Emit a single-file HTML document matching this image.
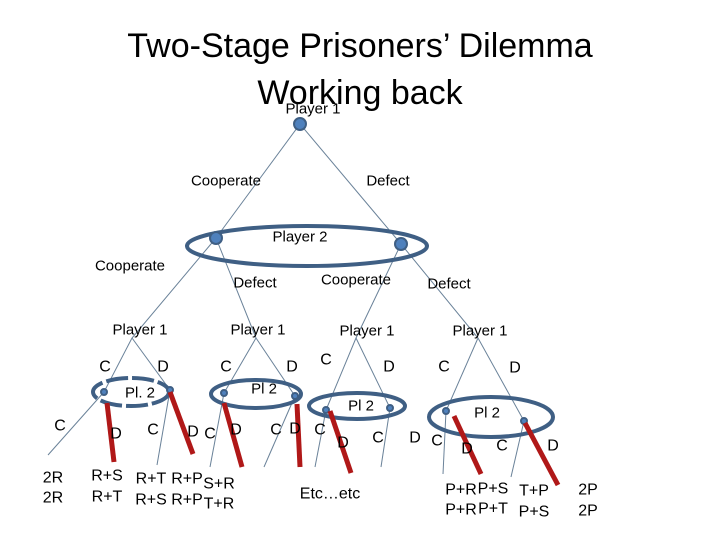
<!DOCTYPE html>
<html><head><meta charset="utf-8"><style>
html,body{margin:0;padding:0;background:#fff;}
svg{display:block;font-family:"Liberation Sans",sans-serif;}
</style></head><body>
<svg width="720" height="540" viewBox="0 0 720 540" xmlns="http://www.w3.org/2000/svg">
<g font-size="34" text-anchor="middle" fill="#000">
<text x="360" y="57">Two-Stage Prisoners’ Dilemma</text>
<text x="360" y="104">Working back</text>
</g>
<g stroke="#6a8299" stroke-width="1" fill="none">
<line x1="300" y1="124" x2="216" y2="238"/>
<line x1="300" y1="124" x2="401" y2="244"/>
<polyline points="216,238 132,338 104,392"/><line x1="132" y1="338" x2="170" y2="390"/>
<polyline points="216,238 256,338 224,393"/><line x1="256" y1="338" x2="295" y2="396"/>
<polyline points="401,244 356,338 326,410"/><line x1="356" y1="338" x2="390" y2="408"/>
<polyline points="401,244 478,338 524,421"/><line x1="478" y1="338" x2="446" y2="411"/>
<line x1="104" y1="392" x2="48" y2="455"/>
<line x1="170" y1="390" x2="157" y2="465"/>
<line x1="224" y1="393" x2="210" y2="467"/>
<line x1="295" y1="396" x2="264" y2="467"/>
<line x1="326" y1="410" x2="315" y2="467"/>
<line x1="390" y1="408" x2="381" y2="467"/>
<line x1="446" y1="411" x2="443" y2="474"/>
<line x1="524" y1="421" x2="511" y2="477"/>
</g>
<g stroke="#3f5f84" stroke-width="4" fill="none">
<ellipse cx="307" cy="246" rx="120" ry="20"/>
<ellipse cx="131" cy="392" rx="38" ry="14" stroke-dasharray="22 4"/>
<ellipse cx="256" cy="394" rx="45" ry="14"/>
<ellipse cx="357" cy="406" rx="48" ry="13"/>
<ellipse cx="491" cy="417" rx="62" ry="20"/>
</g>
<g fill="#4f81bd" stroke="#3f5f84" stroke-width="2">
<circle cx="300" cy="124" r="6"/>
<circle cx="216" cy="238" r="6"/>
<circle cx="401" cy="244" r="6"/>
<circle cx="104" cy="392" r="3"/><circle cx="170" cy="390" r="3"/>
<circle cx="224" cy="393" r="3"/><circle cx="295" cy="396" r="3"/>
<circle cx="326" cy="410" r="3"/><circle cx="390" cy="408" r="3"/>
<circle cx="446" cy="411" r="3"/><circle cx="524" cy="421" r="3"/>
</g>
<g stroke="#b01818" stroke-width="5" fill="none">
<line x1="107" y1="403" x2="114" y2="462"/>
<line x1="170" y1="392" x2="193" y2="454"/>
<line x1="224" y1="403" x2="242" y2="467"/>
<line x1="297" y1="404" x2="300" y2="467"/>
<line x1="330" y1="411" x2="351" y2="473"/>
<line x1="454" y1="416" x2="481" y2="474"/>
<line x1="525" y1="423" x2="558" y2="485"/>
</g>
<g font-size="15" text-anchor="middle" dominant-baseline="central" fill="#000">
<text x="313" y="109">Player 1</text>
<text x="226" y="181">Cooperate</text>
<text x="388" y="181">Defect</text>
<text x="300" y="237">Player 2</text>
<text x="130" y="266">Cooperate</text>
<text x="255" y="283">Defect</text>
<text x="356" y="280">Cooperate</text>
<text x="449" y="284">Defect</text>
<text x="140" y="330">Player 1</text>
<text x="258" y="330">Player 1</text>
<text x="367" y="331">Player 1</text>
<text x="480" y="331">Player 1</text>
<text x="140" y="393">Pl. 2</text>
<text x="264" y="389">Pl 2</text>
<text x="361" y="406">Pl 2</text>
<text x="487" y="413">Pl 2</text>
</g>
<g font-size="16" text-anchor="middle" dominant-baseline="central" fill="#000">
<text x="105" y="367">C</text><text x="163" y="367">D</text>
<text x="226" y="367">C</text><text x="292" y="367">D</text>
<text x="326" y="360">C</text><text x="389" y="367">D</text>
<text x="444" y="367">C</text><text x="515" y="368">D</text>
<text x="60" y="426">C</text><text x="116" y="434">D</text>
<text x="153" y="430">C</text><text x="193" y="432">D</text>
<text x="210" y="434">C</text><text x="236" y="430">D</text>
<text x="276" y="430">C</text><text x="295" y="429">D</text>
<text x="320" y="430">C</text><text x="343" y="443">D</text>
<text x="378" y="438">C</text><text x="415" y="438">D</text>
<text x="437" y="441">C</text><text x="467" y="449">D</text>
<text x="502" y="446">C</text><text x="553" y="446">D</text>
<text x="53" y="478">2R</text><text x="53" y="498">2R</text>
<text x="107" y="476">R+S</text><text x="107" y="497">R+T</text>
<text x="151" y="479">R+T</text><text x="151" y="500">R+S</text>
<text x="187" y="479">R+P</text><text x="187" y="500">R+P</text>
<text x="219" y="484">S+R</text><text x="219" y="504">T+R</text>
<text x="330" y="494">Etc…etc</text>
<text x="461" y="490">P+R</text><text x="461" y="510">P+R</text>
<text x="493" y="489">P+S</text><text x="493" y="509">P+T</text>
<text x="534" y="491">T+P</text><text x="534" y="512">P+S</text>
<text x="588" y="490">2P</text><text x="588" y="511">2P</text>
</g>
</svg>
</body></html>
